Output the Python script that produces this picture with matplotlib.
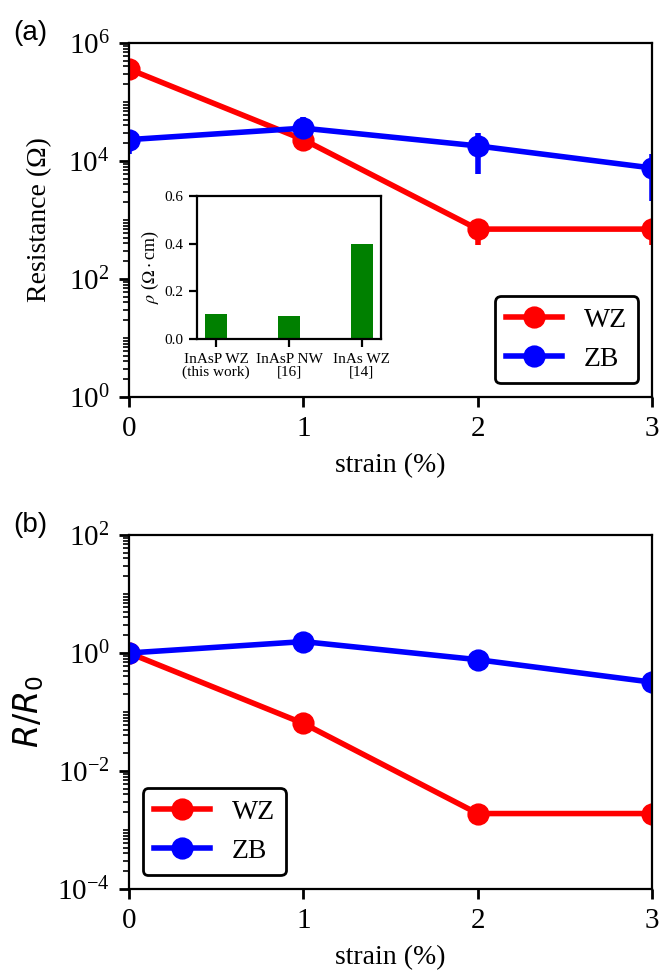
import matplotlib
matplotlib.use("Agg")
import matplotlib.pyplot as plt
import numpy as np
from matplotlib.ticker import FixedLocator, LogLocator, NullFormatter

plt.rcParams["font.family"] = ["Liberation Serif", "DejaVu Serif"]
plt.rcParams["mathtext.fontset"] = "stix"
plt.rcParams["font.size"] = 10

# ---- data ----
strain = [0, 1, 2, 3]

res_wz = [3.6e5, 2.3e4, 700, 700]
res_wz_err = [0, 8e3, 320, 320]
res_zb = [2.3e4, 3.6e4, 1.8e4, 7.6e3]
res_zb_err = [1.0e4, 2.0e4, 1.2e4, 5.5e3]

ratio_wz = [1.0, 0.064, 0.0019, 0.0019]
ratio_zb = [1.0, 1.56, 0.77, 0.32]

inset_labels = ["InAsP WZ\n(this work)", "InAsP NW\n[16]", "InAs WZ\n[14]"]
inset_rho = [0.107, 0.097, 0.398]

RED = "#ff0000"
BLUE = "#0000ff"
GREEN = "#008000"


def style_log_axis(ax, ylim, majors):
    ax.set_yscale("log")
    ax.set_xlim(0, 3)
    ax.set_ylim(*ylim)
    ax.yaxis.set_major_locator(FixedLocator(majors))
    ax.yaxis.set_minor_locator(LogLocator(base=10, subs=np.arange(1, 10), numticks=20))
    ax.yaxis.set_minor_formatter(NullFormatter())
    ax.set_xticks(strain)
    ax.tick_params(which="both", direction="out", right=False, top=False)
    ax.tick_params(which="major", width=1.0, labelsize=10.5)
    ax.set_xlabel("strain (%)")


def add_legend(ax, loc):
    leg = ax.legend(loc=loc, edgecolor="black", framealpha=1)
    leg.get_frame().set_linewidth(1.0)


fig = plt.figure(figsize=(3.3, 4.86), dpi=200)

# ---- panel (a) ----
ax_a = fig.add_axes([0.1955, 0.5916, 0.7924, 0.3642])
ax_a.errorbar(strain, res_wz, yerr=res_wz_err, fmt="none", ecolor=RED,
              elinewidth=2, capsize=0)
ax_a.errorbar(strain, res_zb, yerr=res_zb_err, fmt="none", ecolor=BLUE,
              elinewidth=2, capsize=0)
ax_a.plot(strain, res_wz, "-o", color=RED, lw=2, ms=7, label="WZ")
ax_a.plot(strain, res_zb, "-o", color=BLUE, lw=2, ms=7, label="ZB")
style_log_axis(ax_a, (1, 1e6), [1, 1e2, 1e4, 1e6])
ax_a.set_ylabel("Resistance (Ω)", labelpad=6)
add_legend(ax_a, "lower right")
fig.text(0.02, 0.979, "(a)", family="Liberation Sans", fontsize=10, va="top")

# inset
ax_in = fig.add_axes([0.2985, 0.6512, 0.2788, 0.1471])
ax_in.bar(range(len(inset_rho)), inset_rho, width=0.3, color=GREEN)
ax_in.set_ylim(0, 0.6)
ax_in.set_yticks([0, 0.2, 0.4, 0.6])
ax_in.set_yticklabels(["0.0", "0.2", "0.4", "0.6"])
ax_in.set_xticks(range(len(inset_labels)))
ax_in.set_xticklabels(inset_labels, linespacing=1.0)
ax_in.tick_params(labelsize=5.5, direction="out", length=3, width=0.8, pad=2)
ax_in.set_ylabel(r"$\rho$ ($\Omega\cdot$cm)", fontsize=6.5, labelpad=1)
for sp in ax_in.spines.values():
    sp.set_linewidth(0.8)

# ---- panel (b) ----
ax_b = fig.add_axes([0.1955, 0.0854, 0.7924, 0.3642])
ax_b.plot(strain, ratio_wz, "-o", color=RED, lw=2, ms=7, label="WZ")
ax_b.plot(strain, ratio_zb, "-o", color=BLUE, lw=2, ms=7, label="ZB")
style_log_axis(ax_b, (1e-4, 1e2), [1e-4, 1e-2, 1, 1e2])
ax_b.set_ylabel("$R/R_0$", math_fontfamily="dejavusans", fontsize=12, labelpad=4)
add_legend(ax_b, "lower left")
fig.text(0.02, 0.473, "(b)", family="Liberation Sans", fontsize=10, va="top")

fig.savefig("out.png", dpi=200)
